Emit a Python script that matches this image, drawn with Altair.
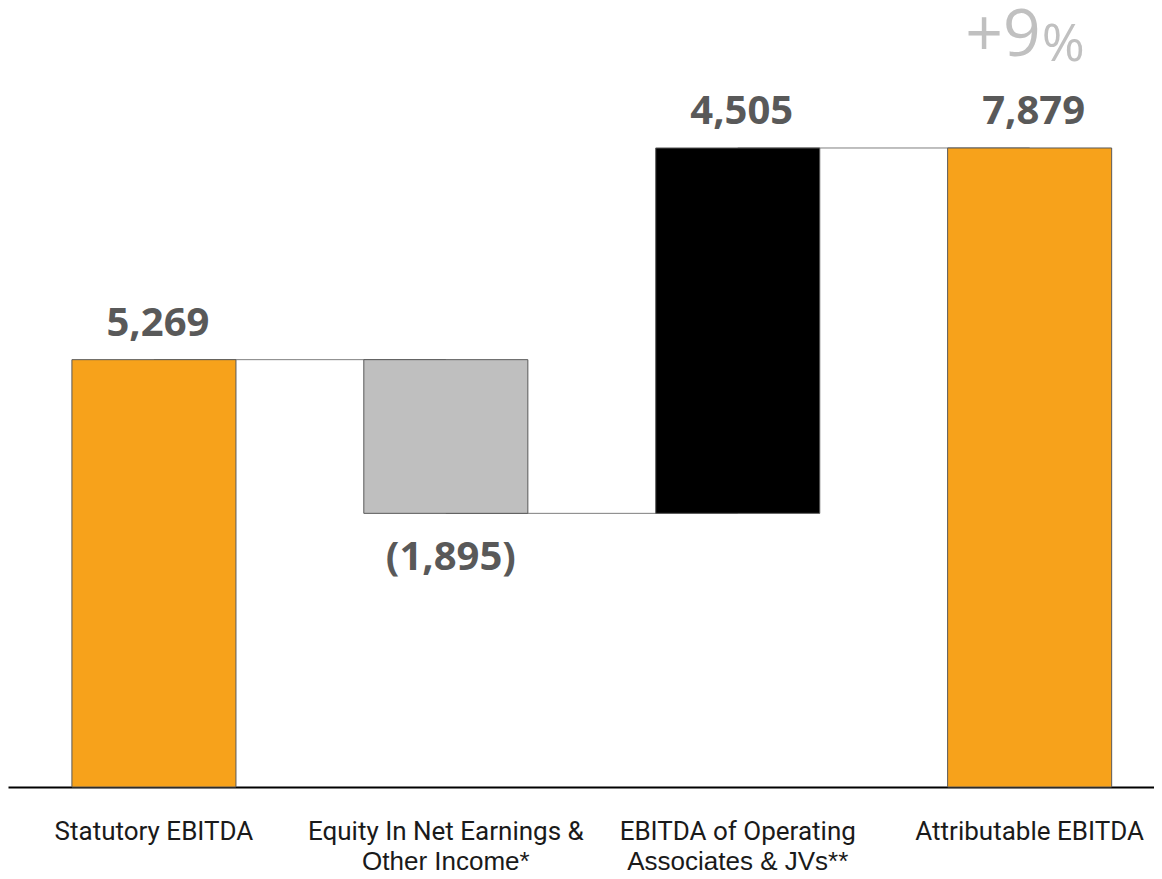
import altair as alt
import pandas as pd

categories = ["Statutory EBITDA", "Equity In Net Earnings & Other Income*",
              "EBITDA of Operating Associates & JVs**", "Attributable EBITDA"]
line1 = ["Statutory EBITDA", "Equity In Net Earnings &", "EBITDA of Operating", "Attributable EBITDA"]
line2 = ["", "Other Income*", "Associates & JVs**", ""]
values = [5269, -1895, 4505, 7879]
kinds = ["total", "delta", "delta", "total"]
value_labels = ["5,269", "(1,895)", "4,505", "7,879"]
colors = ["#F7A21B", "#BFBFBF", "#000000", "#F7A21B"]
growth_main = "+9"
growth_unit = "%"

rows = []
running = 0
for i, c in enumerate(categories):
    if kinds[i] == "total":
        start, end = 0, values[i]
        running = values[i]
    else:
        start = running
        end = running + values[i]
        running = end
    rows.append({"cat": c, "l1": line1[i], "l2": line2[i], "start": start, "end": end,
                 "label": value_labels[i], "color": colors[i],
                 "neg": values[i] < 0,
                 "next": categories[i + 1] if i + 1 < len(categories) else None})
df = pd.DataFrame(rows)

W, H = 1146, 779
xscale = alt.Scale(domain=categories, paddingInner=0.438, paddingOuter=0.182, align=0.6015)
x = alt.X("cat:N", scale=xscale, sort=categories,
          axis=alt.Axis(labels=False, ticks=False, title=None, domain=True,
                        domainColor="#000000", domainWidth=2))
yscale = alt.Scale(domain=[0, 9605], nice=False, zero=True)

base = alt.Chart(df)

connectors = base.transform_filter("datum.next != null").mark_rule(
    color="#7f7f7f", strokeWidth=1).encode(
    x=x, x2="next:N", y=alt.Y("end:Q", scale=yscale, axis=None))

bars = base.mark_bar(stroke="#595959", strokeWidth=1).encode(
    x=x,
    y=alt.Y("start:Q", scale=yscale, axis=None),
    y2="end:Q",
    color=alt.Color("color:N", scale=None),
)

pos_labels = base.transform_filter("!datum.neg").mark_text(
    font="Open Sans", fontWeight="bold", fontSize=40, color="#595959",
    baseline="alphabetic", dx=4, dy=-24).encode(
    x=x, y=alt.Y("end:Q", scale=yscale, axis=None), text="label:N")

neg_labels = base.transform_filter("datum.neg").mark_text(
    font="Open Sans", fontWeight="bold", fontSize=40, color="#595959",
    baseline="alphabetic", dx=5, dy=57).encode(
    x=x, y=alt.Y("end:Q", scale=yscale, axis=None), text="label:N")

last = base.transform_filter(alt.datum.cat == categories[-1])
g1 = last.mark_text(font="Open Sans", fontSize=66, color="#C0C0C0", align="right",
                    baseline="alphabetic", dx=11, dy=-92).encode(
    x=x, y=alt.Y("end:Q", scale=yscale, axis=None), text=alt.value(growth_main))
g2 = last.mark_text(font="Open Sans", fontSize=52, color="#C0C0C0", align="left",
                    baseline="alphabetic", dx=12, dy=-87).encode(
    x=x, y=alt.Y("end:Q", scale=yscale, axis=None), text=alt.value(growth_unit))

cat1 = base.mark_text(font="Roboto", fontSize=26, color="#1a1a1a", baseline="alphabetic").encode(
    x=x, y=alt.value(H + 53), text="l1:N")
cat2 = base.mark_text(font="Liberation Sans", fontSize=26, color="#1a1a1a", baseline="alphabetic").encode(
    x=x, y=alt.value(H + 83), text="l2:N")

chart = alt.layer(connectors, bars, pos_labels, neg_labels, g1, g2, cat1, cat2).properties(
    width=W, height=H,
    padding={"left": 0, "top": 0, "right": 0, "bottom": 84},
    autosize=alt.AutoSizeParams(type="none"),
).configure_view(stroke=None)

chart.save("out.html", embed_options={"renderer": "svg", "actions": False})
